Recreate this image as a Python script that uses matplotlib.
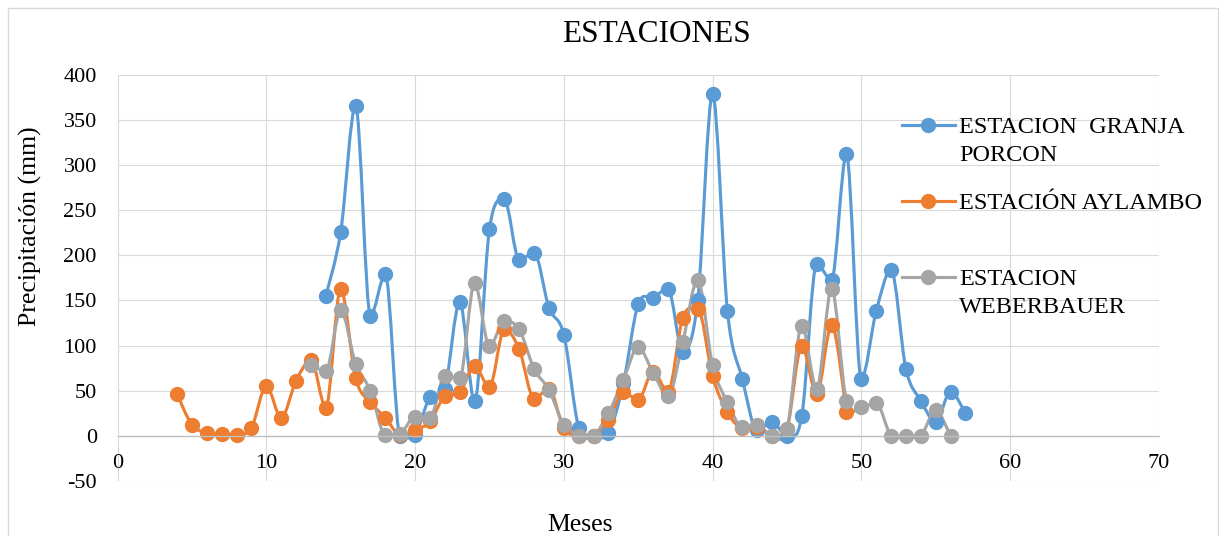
import matplotlib
matplotlib.use("Agg")
import matplotlib.pyplot as plt
import numpy as np
from matplotlib.path import Path
from matplotlib.patches import PathPatch, Rectangle
from matplotlib.lines import Line2D

plt.rcParams['font.family'] = ['Liberation Serif', 'DejaVu Serif']
plt.rcParams['axes.unicode_minus'] = False

# Monthly precipitation (mm) per station
meses_porcon = list(range(14, 58))
granja_porcon = [155, 226, 366, 133, 179, 0, 1, 43, 52, 148, 38, 229, 262, 195, 203,
                 142, 112, 9, 0, 3, 58, 146, 153, 163, 93, 150, 379, 138, 63, 6,
                 15, 0, 22, 190, 173, 312, 63, 138, 184, 74, 39, 15, 49, 25]

meses_aylambo = list(range(4, 50))
aylambo = [46, 12, 3, 2, 1, 9, 55, 20, 61, 84, 31, 163, 64, 37, 20, 1, 6, 16, 44, 48,
           77, 54, 118, 96, 41, 52, 8, 0, 0, 17, 48, 40, 71, 49, 131, 141, 66, 26, 9,
           10, 0, 7, 100, 46, 123, 26]

meses_weberbauer = list(range(13, 57))
weberbauer = [78, 72, 139, 80, 50, 1, 2, 21, 20, 66, 64, 169, 99, 127, 118, 74, 51,
              12, 0, 0, 25, 62, 98, 70, 44, 104, 173, 78, 37, 10, 12, 0, 7, 122, 52,
              163, 38, 32, 36, 0, 0, 0, 28, 0]

series_names = ["ESTACION  GRANJA\nPORCON", "ESTACIÓN AYLAMBO", "ESTACION\nWEBERBAUER"]
colors = ["#5B9BD5", "#ED7D31", "#A5A5A5"]

W, H = 1219, 536
fig = plt.figure(figsize=(W / 100, H / 100), dpi=100)


def fx(px):
    return px / W


def fy(py):
    return 1 - py / H


# outer chart frame
fig.add_artist(Rectangle((fx(8), fy(545)), fx(1218) - fx(8), fy(8) - fy(545),
                         transform=fig.transFigure, fill=False,
                         edgecolor="#D9D9D9", linewidth=1.0))

left, right, top, bottom = 117.6, 1158.8, 75.0, 480.8
ax = fig.add_axes([fx(left), fy(bottom), fx(right) - fx(left), fy(top) - fy(bottom)])
ax.set_xlim(0, 70)
ax.set_ylim(-50, 400)
ax.set_xticks(np.arange(0, 71, 10))
ax.set_yticks(np.arange(-50, 401, 50))
ax.grid(True, color="#D9D9D9", linewidth=0.8)
ax.set_axisbelow(True)
for s in ["top", "right", "left"]:
    ax.spines[s].set_visible(False)
ax.spines["bottom"].set_position(("data", 0))
ax.spines["bottom"].set_color("#BFBFBF")
ax.spines["bottom"].set_linewidth(1.0)
ax.tick_params(axis="both", length=0, labelsize=16, colors="black")
ax.tick_params(axis="y", pad=15)
ax.tick_params(axis="x", pad=13)


def smooth_path(x, y):
    # cubic Bezier segments with Catmull-Rom style control points;
    # local peaks and troughs get a flat tangent so the curve does not overshoot there
    x = np.asarray(x, float)
    y = np.asarray(y, float)
    n = len(x)
    tang = np.zeros((n, 2))
    for i in range(n):
        a = max(i - 1, 0)
        b = min(i + 1, n - 1)
        t = np.array([x[b] - x[a], y[b] - y[a]]) / 6.0
        if 0 < i < n - 1 and (y[i] - y[a]) * (y[i] - y[b]) > 0:
            t[1] = 0.0
        tang[i] = t
    verts = [(x[0], y[0])]
    codes = [Path.MOVETO]
    for i in range(n - 1):
        p1 = np.array([x[i], y[i]])
        p2 = np.array([x[i + 1], y[i + 1]])
        c1 = p1 + tang[i]
        c2 = p2 - tang[i + 1]
        verts += [tuple(c1), tuple(c2), tuple(p2)]
        codes += [Path.CURVE4] * 3
    return Path(verts, codes)


data = [(meses_porcon, granja_porcon), (meses_aylambo, aylambo),
        (meses_weberbauer, weberbauer)]
for (xs, ys), c in zip(data, colors):
    ax.add_patch(PathPatch(smooth_path(xs, ys), facecolor="none", edgecolor=c,
                           linewidth=2.25, capstyle="round", joinstyle="round"))
    ax.plot(xs, ys, linestyle="none", marker="o", markersize=10,
            markerfacecolor=c, markeredgecolor=c)

# title and axis titles
fig.text(fx(656.7), fy(42.3), "ESTACIONES", ha="center", va="baseline", fontsize=22.5)
fig.text(fx(580), fy(530.7), "Meses", ha="center", va="baseline", fontsize=18.5)
fig.text(fx(30), fy(226), "Precipitación (mm)", ha="center", va="center",
         rotation=90, fontsize=18.5)

# legend entries
legend_rows = [125, 200.7, 276.7]
line_step = 28
for name, c, yc in zip(series_names, colors, legend_rows):
    fig.add_artist(Line2D([fx(901.7), fx(955)], [fy(yc), fy(yc)],
                          transform=fig.transFigure, color=c, linewidth=2.25))
    fig.add_artist(Line2D([fx(928.3)], [fy(yc)], transform=fig.transFigure,
                          marker="o", markersize=10, markerfacecolor=c,
                          markeredgecolor=c, linestyle="none"))
    for k, line in enumerate(name.split("\n")):
        fig.text(fx(959.3), fy(yc + 8 + k * line_step), line, ha="left",
                 va="baseline", fontsize=17.5)

fig.savefig("out.png", dpi=100)
